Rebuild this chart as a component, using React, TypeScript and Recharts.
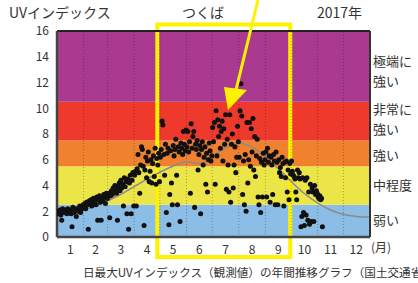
import React from 'react';
import {
  ComposedChart,
  Scatter,
  Line,
  XAxis,
  YAxis,
  ZAxis,
  ReferenceArea,
  ReferenceLine,
} from 'recharts';

// day-of-year where each month starts (2017, not a leap year)
const monthStarts = [0, 31, 59, 90, 120, 151, 181, 212, 243, 273, 304, 334, 365];
const monthTicks = [15.5, 45, 74.5, 105, 135.5, 166, 196.5, 227.5, 258, 288.5, 319, 349];
const monthLabels = ['1', '2', '3', '4', '5', '6', '7', '8', '9', '10', '11', '12'];
const yTicks = [0, 2, 4, 6, 8, 10, 12, 14, 16];

const jan = [1.8, 2.0, 1.9, 2.1, 1.7, 1.3, 2.2, 2.0, 1.9, 2.1, 2.0, 1.8, 2.2, 1.9, 2.1, 2.0, 1.8, 0.8, 2.3, 1.9, 2.1, 2.2, 1.6, 2.0, 2.2, 2.1, 2.4, 1.9, 2.3, 2.2, 2.5];
const feb = [2.4, 2.6, 2.2, 2.7, 2.5, 0.6, 2.8, 2.6, 2.9, 2.4, 2.7, 3.0, 2.6, 2.8, 2.5, 3.1, 1.3, 2.9, 3.2, 2.7, 1.3, 3.0, 2.8, 3.3, 3.1, 2.6, 3.4, 3.0];
const mar = [3.1, 3.4, 1.5, 3.2, 3.6, 3.3, 3.8, 3.5, 4.0, 3.7, 3.4, 1.3, 3.9, 4.2, 3.6, 4.4, 3.8, 4.1, 2.4, 4.6, 3.9, 4.3, 1.8, 4.5, 0.6, 4.2, 4.8, 1.8, 4.4, 5.0, 2.4];
const apr = [4.8, 5.1, 2.4, 5.3, 6.4, 5.0, 3.4, 5.6, 7.0, 6.8, 5.5, 0.9, 5.2, 6.2, 4.6, 5.9, 6.6, 4.3, 5.1, 6.0, 4.2, 5.7, 6.3, 4.7, 6.9, 4.1, 6.1, 5.6, 6.5, 4.3];
const may = [6.2, 6.8, 9.0, 8.7, 6.4, 4.8, 7.2, 1.9, 6.5, 6.9, 0.95, 3.3, 6.7, 4.2, 2.5, 7.1, 6.3, 6.8, 7.6, 4.8, 2.5, 7.0, 6.6, 1.2, 7.3, 6.9, 6.4, 8.2, 7.2, 6.7, 8.3];
const jun = [7.0, 8.2, 6.6, 7.4, 3.4, 8.8, 6.9, 7.8, 8.2, 2.3, 7.2, 6.8, 7.5, 5.2, 6.4, 7.1, 1.8, 6.8, 7.4, 5.6, 6.2, 7.0, 4.1, 6.5, 3.5, 6.0, 7.3, 6.7, 5.9, 6.3];
const jul = [8.5, 7.4, 8.9, 4.1, 9.8, 6.3, 9.1, 7.8, 8.6, 6.9, 8.2, 9.0, 5.9, 8.4, 7.2, 9.5, 3.7, 7.6, 5.6, 3.5, 9.5, 2.7, 7.2, 8.0, 3.8, 5.6, 7.0, 5.0, 6.2, 8.6, 7.4];
const aug = [6.2, 9.8, 11.9, 9.4, 3.3, 5.9, 2.5, 6.4, 2.0, 8.9, 4.2, 6.0, 8.9, 5.5, 8.4, 6.6, 9.2, 5.2, 7.8, 4.7, 6.3, 7.6, 3.1, 2.5, 6.1, 1.9, 5.8, 3.1, 6.5, 5.6, 6.0];
const sep = [6.6, 3.1, 6.9, 5.8, 6.3, 2.7, 6.2, 5.6, 3.3, 6.4, 5.9, 2.5, 6.6, 5.8, 2.5, 6.0, 5.0, 5.4, 4.7, 6.2, 5.7, 2.4, 5.8, 4.6, 5.9, 3.5, 5.2, 2.9, 5.7, 4.9];
const oct = [5.9, 5.1, 4.8, 4.7, 4.5, 3.5, 2.9, 5.2, 4.6, 5.0, 4.5, 0.8, 1.6, 4.6, 1.9, 0.9, 4.4, 1.7, 4.6, 1.3, 3.5, 1.0, 4.1, 1.2, 3.8, 3.5, 1.2, 4.0, 3.3, 3.6, 3.4];
const nov = [3.1, 3.0, 3.2, 2.9, 3.0, 0.8];

// climatological average (gray line)
const normalDays = [0, 15, 45, 74, 105, 135, 152, 166, 196, 213, 227, 258, 288, 319, 349, 365];
const normalValues = [1.85, 1.95, 2.4, 3.3, 4.5, 5.5, 5.85, 5.7, 6.9, 7.3, 7.0, 5.3, 3.4, 2.1, 1.6, 1.55];

// UV category bands
const bandLow = [0, 2.5, 5.5, 7.5, 10.5];
const bandHigh = [2.5, 5.5, 7.5, 10.5, 16];
const bandColors = ['#8bbde6', '#ece548', '#f0812e', '#ee3a2c', '#a93a90'];

const months = [jan, feb, mar, apr, may, jun, jul, aug, sep, oct, nov];
const points: { d: number; v: number }[] = [];
months.forEach((vals, m) => vals.forEach((v, i) => points.push({ d: monthStarts[m] + i + 0.5, v })));
const normal = normalDays.map((d, i) => ({ d, v: normalValues[i] }));

const font = '"Noto Sans CJK JP", "Noto Sans", sans-serif';

export default function App() {
  return (
    <div style={{ position: 'relative', width: 418, height: 283, overflow: 'hidden', fontFamily: font, background: '#fff' }}>
      <style>{'body{margin:0}'}</style>
      <ComposedChart width={418} height={283} margin={{ top: 31, right: 0, bottom: 0, left: 0 }}>
        {bandLow.map((lo, i) => (
          <ReferenceArea key={i} yAxisId="l" y1={lo} y2={bandHigh[i]} fill={bandColors[i]} fillOpacity={1} stroke="none" />
        ))}
        {monthStarts.slice(1, 12).map((d) => (
          <ReferenceLine key={d} yAxisId="l" x={d} stroke="#000" strokeOpacity={0.3} strokeDasharray="1 2" />
        ))}
        <XAxis
          dataKey="d"
          type="number"
          domain={[0, 365]}
          ticks={monthTicks}
          tickFormatter={(v: number) => monthLabels[monthTicks.indexOf(v)]}
          tick={{ fill: '#333', fontSize: 12, fontFamily: font }}
          tickLine={false}
          axisLine={{ stroke: '#444', strokeWidth: 2.5 }}
          height={46}
          allowDataOverflow
        />
        <YAxis
          yAxisId="l"
          type="number"
          domain={[0, 16]}
          ticks={yTicks}
          width={57}
          tick={{ fill: '#333', fontSize: 12, fontFamily: font }}
          tickLine={false}
          axisLine={{ stroke: '#444', strokeWidth: 2.5 }}
          allowDataOverflow
        />
        <YAxis
          yAxisId="r"
          orientation="right"
          type="number"
          domain={[0, 16]}
          ticks={yTicks}
          width={48}
          tick={false}
          tickLine={false}
          axisLine={{ stroke: '#333', strokeWidth: 2 }}
        />
        <ZAxis range={[20, 20]} />
        <ReferenceLine yAxisId="l" y={16} stroke="#222" strokeWidth={2} />
        <Line
          yAxisId="l"
          data={normal}
          dataKey="v"
          type="monotone"
          stroke="#8a8a8a"
          strokeWidth={1.5}
          dot={false}
          isAnimationActive={false}
        />
        <Scatter yAxisId="l" data={points} dataKey="v" fill="#111" isAnimationActive={false} />
        <ReferenceArea
          yAxisId="l"
          x1={117}
          x2={272}
          y1={-1.55}
          y2={16.5}
          fill="none"
          stroke="#fff200"
          strokeWidth={4}
          ifOverflow="visible"
        />
      </ComposedChart>
      <svg width={418} height={283} style={{ position: 'absolute', left: 0, top: 0, pointerEvents: 'none' }}>
        <g fill="#333" fontFamily={font}>
          <text x={9} y={18} fontSize={14}>UVインデックス</text>
          <text x={182} y={18} fontSize={14}>つくば</text>
          <text x={317} y={18} fontSize={14}>2017年</text>
          <text x={373} y={66} fontSize={13}>極端に</text>
          <text x={373} y={86} fontSize={13}>強い</text>
          <text x={373} y={114} fontSize={13}>非常に</text>
          <text x={373} y={134} fontSize={13}>強い</text>
          <text x={373} y={160} fontSize={13}>強い</text>
          <text x={373} y={190} fontSize={13}>中程度</text>
          <text x={373} y={225} fontSize={13}>弱い</text>
          <text x={371} y={252} fontSize={12}>(月)</text>
          <text x={83} y={277} fontSize={11.6}>日最大UVインデックス（観測値）の年間推移グラフ（国土交通省）</text>
        </g>
        <line x1={258} y1={0} x2={236} y2={90} stroke="#fff200" strokeWidth={3} />
        <polygon points="224,87 247,90 228,110" fill="#fff200" />
      </svg>
    </div>
  );
}
